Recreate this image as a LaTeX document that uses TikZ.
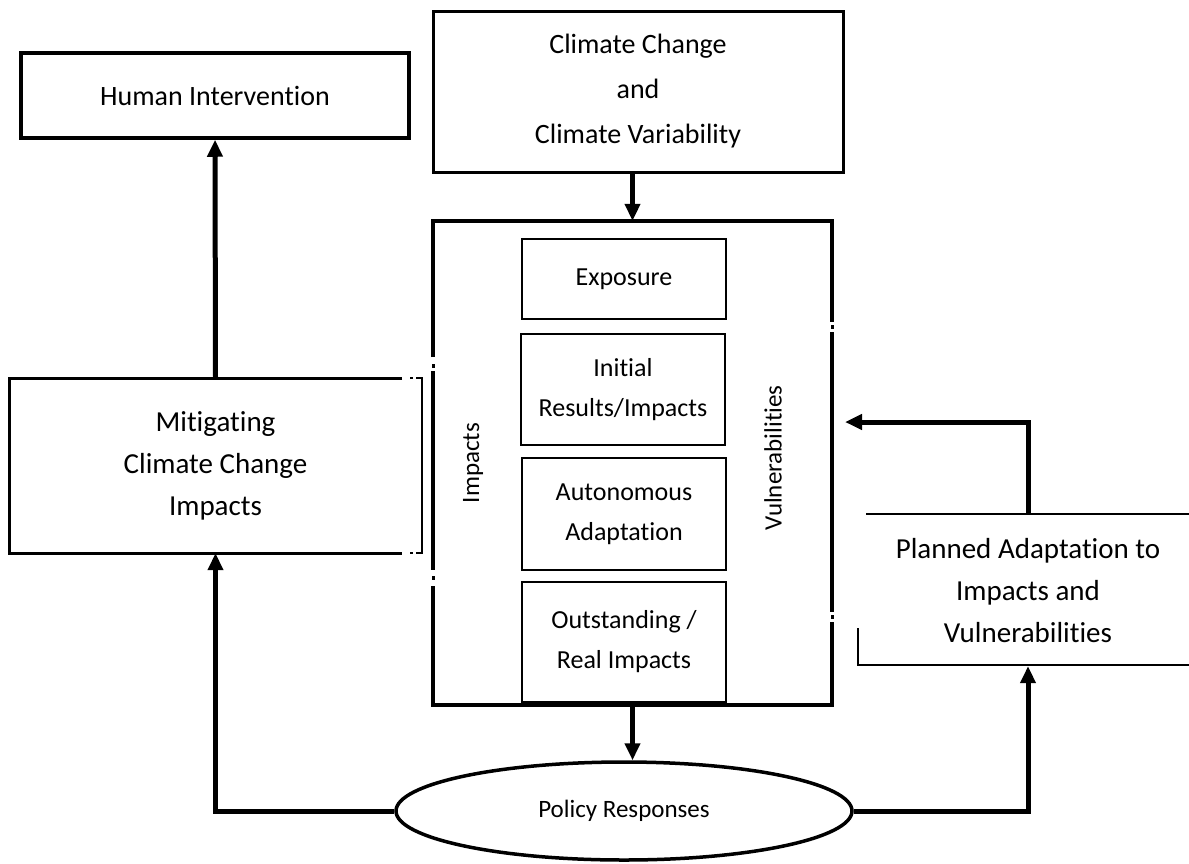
\documentclass[tikz,border=0pt]{standalone}
\usepackage{fontspec}
\setmainfont{Carlito}[Ligatures=NoCommon]
\usepackage{tikz}
\usetikzlibrary{shapes,arrows.meta,positioning}
\tikzstyle{mainbox} = [rectangle, draw, line width=3.5pt, inner sep=0pt, align=center, font=\fontsize{28}{44}\selectfont]
\tikzstyle{openbox} = [rectangle, inner sep=0pt, align=center, font=\fontsize{29}{42}\selectfont]
\tikzstyle{stage} = [rectangle, draw, line width=1.6pt, inner sep=0pt, minimum width=204pt, align=center, font=\fontsize{26}{40}\selectfont]
\tikzstyle{side} = [rotate=90, font=\fontsize{25}{30}\selectfont]
\tikzstyle{policy} = [ellipse, draw, line width=3.5pt, inner sep=0pt, minimum width=456pt, minimum height=98pt, font=\fontsize{25}{30}\selectfont]
\tikzstyle{frame} = [line width=4pt]
\tikzstyle{tedge}  = [draw, line width=5pt, -{Triangle[length=17pt,width=15pt]}]

\begin{document}
\begin{tikzpicture}[x=1pt, y=-1pt]
\useasboundingbox (0,0) rectangle (1189,863);

% top boxes =============================
\node[mainbox, minimum width=388pt, minimum height=85pt] (hi) at (215,95.5) {Human Intervention};
\node[mainbox, line width=3pt, minimum width=410pt, minimum height=161pt, font=\fontsize{28}{45}\selectfont] (cc) at (638,91.5) {Climate Change\\and\\Climate Variability};

% impacts / vulnerabilities frame
\node[minimum width=399pt, minimum height=484pt, inner sep=0pt] (big) at (632.5,463) {};
\draw[frame] (433,357) -- (433,221) -- (832,221) -- (832,322);
\draw[frame] (433,371) -- (433,570);
\draw[frame] (433,586) -- (433,705) -- (832,705) -- (832,622);
\draw[frame] (832,332) -- (832,612);
\draw[line width=3pt] (433,364) -- (433,368) (433,576) -- (433,580);
\draw[line width=3pt] (832,325) -- (832,329) (832,615) -- (832,619);

\node[stage, minimum height=80pt] (expo) at (624,279) {Exposure};
\node[stage, minimum height=111pt] (init) at (623,389.5) {Initial\\Results/Impacts};
\node[stage, minimum height=112pt] (auto) at (624,514) {Autonomous\\Adaptation};
\node[stage, minimum height=120pt] (outs) at (624,642) {Outstanding /\\Real Impacts};

\node[side] (imp) at (473,463) {Impacts};
\node[side] (vul) at (773,458) {Vulnerabilities};

% side boxes
\node[openbox, minimum width=413pt, minimum height=175pt] (mit) at (215.5,465.5) {Mitigating\\Climate Change\\Impacts};
\draw[line width=3pt] (402,378) -| (9,553) -- (402,553);
\draw[line width=2.5pt] (410,378) -- (413,378) (410,553) -- (413,553);
\draw[line width=2.5pt] (416,378) -- (422,378) -- (422,553) -- (416,553);

\node[openbox, minimum width=300pt, minimum height=151pt] (pa) at (1028,590.5) {Planned Adaptation to\\Impacts and\\Vulnerabilities};
\draw[line width=1.8pt] (866,514) -- (1189,514);
\draw[line width=1.8pt] (858,628) -- (858,665) -- (1189,665);

\node[policy] (pr) at (624,811) {Policy Responses};
\coordinate (vin) at (845,422);

% edges
\path[tedge] (cc.south -| big.north) -- (big.north);
\path[tedge] (big.south) -- (big.south |- pr.north);
\path[tedge] (mit.north) -- (hi.south);
\path[tedge] (pr.west) -| (mit.south);
\path[tedge] (pr.east) -| (pa.south);
\path[tedge] (pa.north) |- (vin);

\end{tikzpicture}
\end{document}
